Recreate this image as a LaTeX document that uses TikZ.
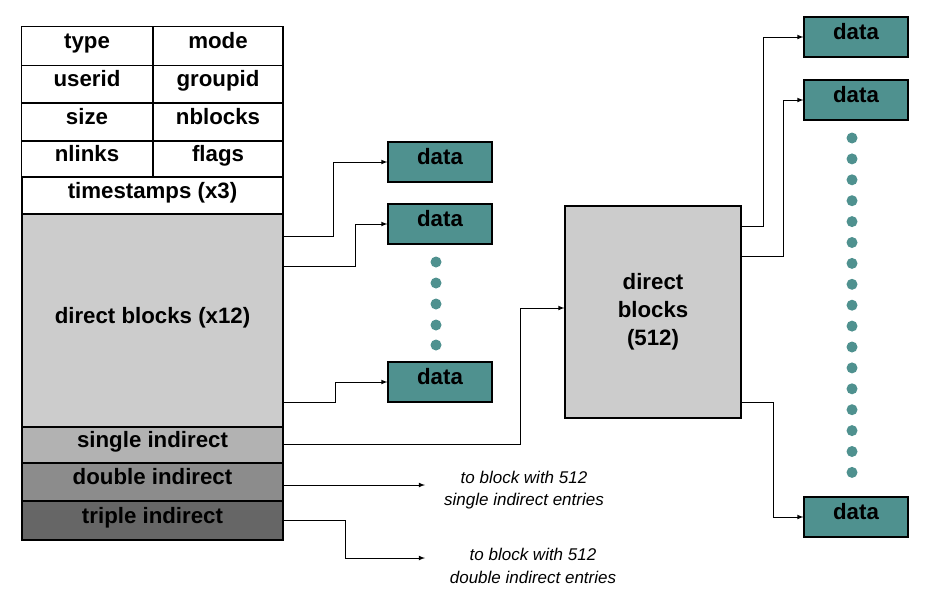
\documentclass[tikz,border=0pt]{standalone}
\usepackage{fontspec}
\setmainfont{Liberation Sans}
\usetikzlibrary{positioning}
\definecolor{teal}{RGB}{79,145,143}
\tikzset{
  cell/.style={draw,line width=1.2pt,font=\fontsize{19}{22}\selectfont\bfseries,inner sep=0pt,text height=11pt,text depth=6pt},
  dblk/.style={draw,line width=1pt,fill=teal,minimum width=104*0.03cm,minimum height=40*0.03cm,font=\fontsize{19}{22}\selectfont\bfseries,text height=11pt,text depth=6pt},
  link/.style={-latex,line width=0.8pt},
  dot/.style={circle,fill=teal,inner sep=0pt,minimum size=11*0.03cm},
  note/.style={font=\fontsize{14.5}{19}\selectfont\itshape,align=center}
}
\begin{document}
\begin{tikzpicture}[x=0.03cm,y=-0.03cm]
  \useasboundingbox (0,0) rectangle (933,606);
  % inode table
  \node[cell,minimum width=131*0.03cm,minimum height=39*0.03cm] (type) at (87,46) {type};
  \node[cell,minimum width=130*0.03cm,minimum height=39*0.03cm] (mode) at (218,46) {mode};
  \node[cell,minimum width=131*0.03cm,minimum height=37*0.03cm] (uid) at (87,84) {userid};
  \node[cell,minimum width=130*0.03cm,minimum height=37*0.03cm] (gid) at (218,84) {groupid};
  \node[cell,minimum width=131*0.03cm,minimum height=38*0.03cm] (size) at (87,122) {size};
  \node[cell,minimum width=130*0.03cm,minimum height=38*0.03cm] (nbl) at (218,122) {nblocks};
  \node[cell,minimum width=131*0.03cm,minimum height=36*0.03cm] (nln) at (87,159) {nlinks};
  \node[cell,minimum width=130*0.03cm,minimum height=36*0.03cm] (flg) at (218,159) {flags};
  \node[cell,minimum width=261*0.03cm,minimum height=37*0.03cm] (ts) at (152.5,195.5) {timestamps (x3)};
  \node[cell,fill=black!20,minimum width=261*0.03cm,minimum height=213*0.03cm] (direct) at (152.5,320.5) {direct blocks (x12)};
  \node[cell,fill=black!30,minimum width=261*0.03cm,minimum height=36*0.03cm] (single) at (152.5,445) {single indirect};
  \node[cell,fill=black!45,minimum width=261*0.03cm,minimum height=38*0.03cm] (double) at (152.5,482) {double indirect};
  \node[cell,fill=black!60,minimum width=261*0.03cm,minimum height=39*0.03cm] (triple) at (152.5,520.5) {triple indirect};
  % data blocks
  \node[dblk] (d1) at (440,162) {data};
  \node[dblk] (d2) at (440,224) {data};
  \node[dblk] (d3) at (440,382) {data};
  \foreach \y in {262,283,304,325,345} \node[dot] at (436,\y) {};
  \node[draw,line width=1pt,fill=black!20,minimum width=176*0.03cm,minimum height=212*0.03cm,align=center,font=\fontsize{19}{24}\selectfont\bfseries] (ind) at (653,312) {direct\\blocks\\(512)};
  \node[dblk] (r1) at (856,37) {data};
  \node[dblk] (r2) at (856,100) {data};
  \node[dblk] (r3) at (856,517) {data};
  \foreach \i in {0,...,16} \node[dot] at (852,138+\i*20.9) {};
  \node[note] (n1) at (524,490) {to block with 512\\single indirect entries};
  \node[note] (n2) at (533,566) {to block with 512\\double indirect entries};
  % connectors
  \draw[link] (direct.east|-0,236) -| (333,162) -- (d1.west);
  \draw[link] (direct.east|-0,266) -| (355,224) -- (d2.west);
  \draw[link] (direct.east|-0,402) -| (335,382) -- (d3.west);
  \draw[link] (single.east|-0,444) -| (520,308) -- (ind.west|-0,308);
  \draw[link] (double.east|-0,485) -- (425,485);
  \draw[link] (triple.east) -| (345,558) -- (425,558);
  \draw[link] (ind.east|-0,226) -| (763,37) -- (r1.west);
  \draw[link] (ind.east|-0,256) -| (783,100) -- (r2.west);
  \draw[link] (ind.east|-0,402) -| (773,517) -- (r3.west);
\end{tikzpicture}
\end{document}
